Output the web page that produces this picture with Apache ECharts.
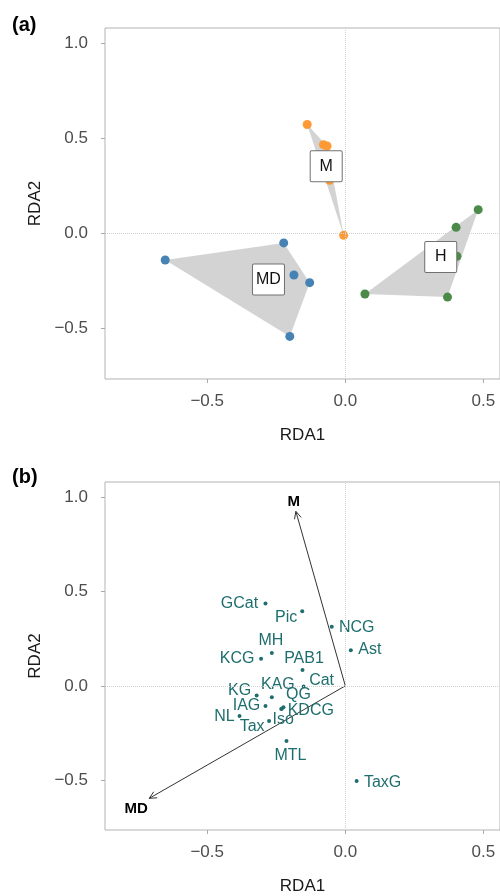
<!DOCTYPE html>
<html>
<head>
<meta charset="utf-8">
<script src="https://cdn.jsdelivr.net/npm/echarts@6/dist/echarts.min.js"></script>
<style>html,body{margin:0;padding:0;background:#fff}#c{width:500px;height:896px}</style>
</head>
<body>
<div id="c"></div>
<script>
// ---------- data ----------
const groupNames = ['M', 'MD', 'H'];
const mX  = [-0.138, -0.079, -0.066, -0.057, -0.006];
const mY  = [ 0.574,  0.468,  0.461,  0.281, -0.009];
const mdX = [-0.652, -0.223, -0.186, -0.129, -0.201];
const mdY = [-0.139, -0.049, -0.218, -0.258, -0.541];
const hX  = [ 0.481,  0.401,  0.404,  0.071,  0.370];
const hY  = [ 0.126,  0.033, -0.119, -0.318, -0.334];

const varNames = ['GCat','Pic','NCG','Ast','MH','KCG','PAB1','Cat','KAG','KG','QG','KDCG','IAG','NL','Tax','Iso','MTL','TaxG'];
const varX = [-0.289,-0.156,-0.049, 0.020,-0.266,-0.305,-0.155,-0.151,-0.266,-0.321,-0.224,-0.230,-0.289,-0.383,-0.276,-0.232,-0.213, 0.041];
const varY = [ 0.437, 0.396, 0.314, 0.189, 0.175, 0.144, 0.084,-0.004,-0.060,-0.051,-0.114,-0.121,-0.107,-0.160,-0.186,-0.123,-0.292,-0.505];

const arrowNames = ['M', 'MD'];
const arrowX = [-0.179, -0.710];
const arrowY = [ 0.926, -0.597];

const tickValues = [-0.5, 0, 0.5];
const yTickValues = [-0.5, 0, 0.5, 1.0];

// ---------- styling / layout (not data) ----------
const FONT = 'Liberation Sans, Arial, sans-serif';
const groupColors = ['#FE9A35', '#4682B4', '#4C8A4A'];
const teal = '#1f6e6e';
// label centre offsets (px) relative to each point, ggrepel-like placement
const varLabelOffset = {
  GCat:[-26,0], Pic:[-16,6], NCG:[25,0.5], Ast:[19,-0.5], MH:[-1,-12], KCG:[-24,0],
  PAB1:[1.5,-11], Cat:[18,-6], KAG:[6,-13], KG:[-17,-5], QG:[15,-13], KDCG:[29,2],
  IAG:[-19,0], NL:[-15,1], Tax:[-17,6], Iso:[2,11], MTL:[4,15], TaxG:[26,2]
};
const arrowLabelOffset = [[-2,-10],[-13,11]];

const X_MIN = -0.87, X_MAX = 0.56, Y_MIN = -0.765, Y_MAX = 1.082;
const gridA = {left:105, top:28, width:398, height:351};
const gridB = {left:105, top:482, width:398, height:351};

// ---------- helpers ----------
const groupsX = [mX, mdX, hX];
const groupsY = [mY, mdY, hY];
function hull(xs, ys) {
  const pts = xs.map((x,i)=>[x, ys[i]]).sort((a,b)=>a[0]-b[0]||a[1]-b[1]);
  const cross=(o,a,b)=>(a[0]-o[0])*(b[1]-o[1])-(a[1]-o[1])*(b[0]-o[0]);
  const lower=[], upper=[];
  for (const p of pts){ while(lower.length>=2&&cross(lower[lower.length-2],lower[lower.length-1],p)<=0) lower.pop(); lower.push(p); }
  for (let i=pts.length-1;i>=0;i--){ const p=pts[i]; while(upper.length>=2&&cross(upper[upper.length-2],upper[upper.length-1],p)<=0) upper.pop(); upper.push(p); }
  upper.pop(); lower.pop();
  return lower.concat(upper);
}
const hulls = groupsX.map((xs,i)=>hull(xs, groupsY[i]));
const mean = a => a.reduce((s,v)=>s+v,0)/a.length;
const centroids = groupsX.map((xs,i)=>[mean(xs), mean(groupsY[i])]);

const fmt = v=>(v<0?'\u2212':'')+Math.abs(v).toFixed(1);
function xAxisCfg(gi) {
  return {
    type:'value', gridIndex:gi, min:X_MIN, max:X_MAX, position:'bottom',
    name:'RDA1', nameLocation:'middle', nameGap:48,
    nameTextStyle:{fontSize:17, color:'#1a1a1a', fontFamily:FONT},
    axisLine:{show:false, onZero:false}, splitLine:{show:false},
    axisTick:{show:true, inside:false, customValues:tickValues, length:4, lineStyle:{color:'#aaaaaa'}},
    axisLabel:{customValues:tickValues, fontSize:17, color:'#4d4d4d', fontFamily:FONT, margin:14, formatter:fmt}
  };
}
function yAxisCfg(gi) {
  return {
    type:'value', gridIndex:gi, min:Y_MIN, max:Y_MAX, position:'left',
    name:'RDA2', nameLocation:'middle', nameGap:60,
    nameTextStyle:{fontSize:17, color:'#1a1a1a', fontFamily:FONT},
    axisLine:{show:false, onZero:false}, splitLine:{show:false},
    axisTick:{show:true, inside:false, customValues:yTickValues, length:4, lineStyle:{color:'#aaaaaa'}},
    axisLabel:{customValues:yTickValues, fontSize:17, color:'#4d4d4d', fontFamily:FONT, margin:17, formatter:fmt}
  };
}
const zeroLines = gi => ({
  type:'scatter', xAxisIndex:gi, yAxisIndex:gi, data:[], z:1, silent:true,
  markLine:{silent:true, symbol:'none', label:{show:false},
    lineStyle:{type:'dotted', color:'#d0d0d0', width:1},
    data:[{xAxis:0},{yAxis:0}]}
});

const series = [
  zeroLines(0),
  {
    type:'custom', xAxisIndex:0, yAxisIndex:0, z:2, silent:true,
    data: centroids.map((c,i)=>[c[0], c[1], i]),
    renderItem:(params, api)=>{
      const h = hulls[params.dataIndex];
      return {type:'polygon', shape:{points:h.map(p=>api.coord(p))},
        style:{fill:'rgba(168,168,168,0.5)', stroke:null}};
    }
  },
  ...groupNames.map((g,i)=>({
    type:'scatter', name:g, xAxisIndex:0, yAxisIndex:0, z:3, symbolSize:9,
    itemStyle:{color:groupColors[i], opacity:1},
    data: groupsX[i].map((x,k)=>[x, groupsY[i][k]])
  })),
  {
    type:'scatter', xAxisIndex:0, yAxisIndex:0, z:5, symbolSize:0,
    itemStyle:{opacity:1},
    data: centroids.map((c,i)=>({name:groupNames[i], value:c})),
    label:{show:true, position:'inside', formatter:'{b}', fontSize:16, fontFamily:FONT, opacity:1,
      color:'#111111', backgroundColor:'#ffffff', borderColor:'#707070', borderWidth:1,
      borderRadius:1, width:23, align:'center', lineHeight:18, padding:[6,4,6,4]}
  },
  zeroLines(1),
  {
    type:'custom', xAxisIndex:1, yAxisIndex:1, z:3, silent:true,
    data: arrowX.map((x,i)=>[x, arrowY[i]]),
    renderItem:(params, api)=>{
      const i = params.dataIndex;
      const o = api.coord([0,0]);
      const t = api.coord([api.value(0), api.value(1)]);
      const ang = Math.atan2(t[1]-o[1], t[0]-o[0]);
      const L = 8, a = Math.PI/7;
      const p1 = [t[0]-L*Math.cos(ang-a), t[1]-L*Math.sin(ang-a)];
      const p2 = [t[0]-L*Math.cos(ang+a), t[1]-L*Math.sin(ang+a)];
      return {type:'group', children:[
        {type:'line', shape:{x1:o[0],y1:o[1],x2:t[0],y2:t[1]}, style:{stroke:'#333333', lineWidth:1}},
        {type:'polyline', shape:{points:[p1,t,p2]}, style:{stroke:'#333333', lineWidth:1, fill:null}},
        {type:'text', style:{text:arrowNames[i], x:t[0]+arrowLabelOffset[i][0], y:t[1]+arrowLabelOffset[i][1],
          align:'center', verticalAlign:'middle', fontSize:15, fontWeight:'bold', fontFamily:FONT, fill:'#000000'}}
      ]};
    }
  },
  {
    type:'scatter', xAxisIndex:1, yAxisIndex:1, z:4, symbolSize:4,
    itemStyle:{color:teal, opacity:1},
    data: varNames.map((n,i)=>({name:n, value:[varX[i], varY[i]],
      label:{offset:varLabelOffset[n]}})),
    label:{show:true, position:'inside', formatter:'{b}', fontSize:16, fontFamily:FONT, opacity:1,
      color:teal, align:'center', verticalAlign:'middle'}
  }
];

const chart = echarts.init(document.getElementById('c'), null, {renderer:'canvas'});
chart.setOption({
  animation:false,
  backgroundColor:'#ffffff',
  title:[
    {text:'(a)', left:12, top:15, padding:0, textStyle:{fontSize:20, fontWeight:'bold', color:'#000', fontFamily:FONT}},
    {text:'(b)', left:12, top:467, padding:0, textStyle:{fontSize:20, fontWeight:'bold', color:'#000', fontFamily:FONT}}
  ],
  grid:[
    Object.assign({show:true, borderColor:'#b3b3b3', borderWidth:1, backgroundColor:'#fff'}, gridA),
    Object.assign({show:true, borderColor:'#b3b3b3', borderWidth:1, backgroundColor:'#fff'}, gridB)
  ],
  xAxis:[xAxisCfg(0), xAxisCfg(1)],
  yAxis:[yAxisCfg(0), yAxisCfg(1)],
  series:series
});
</script>
</body>
</html>
